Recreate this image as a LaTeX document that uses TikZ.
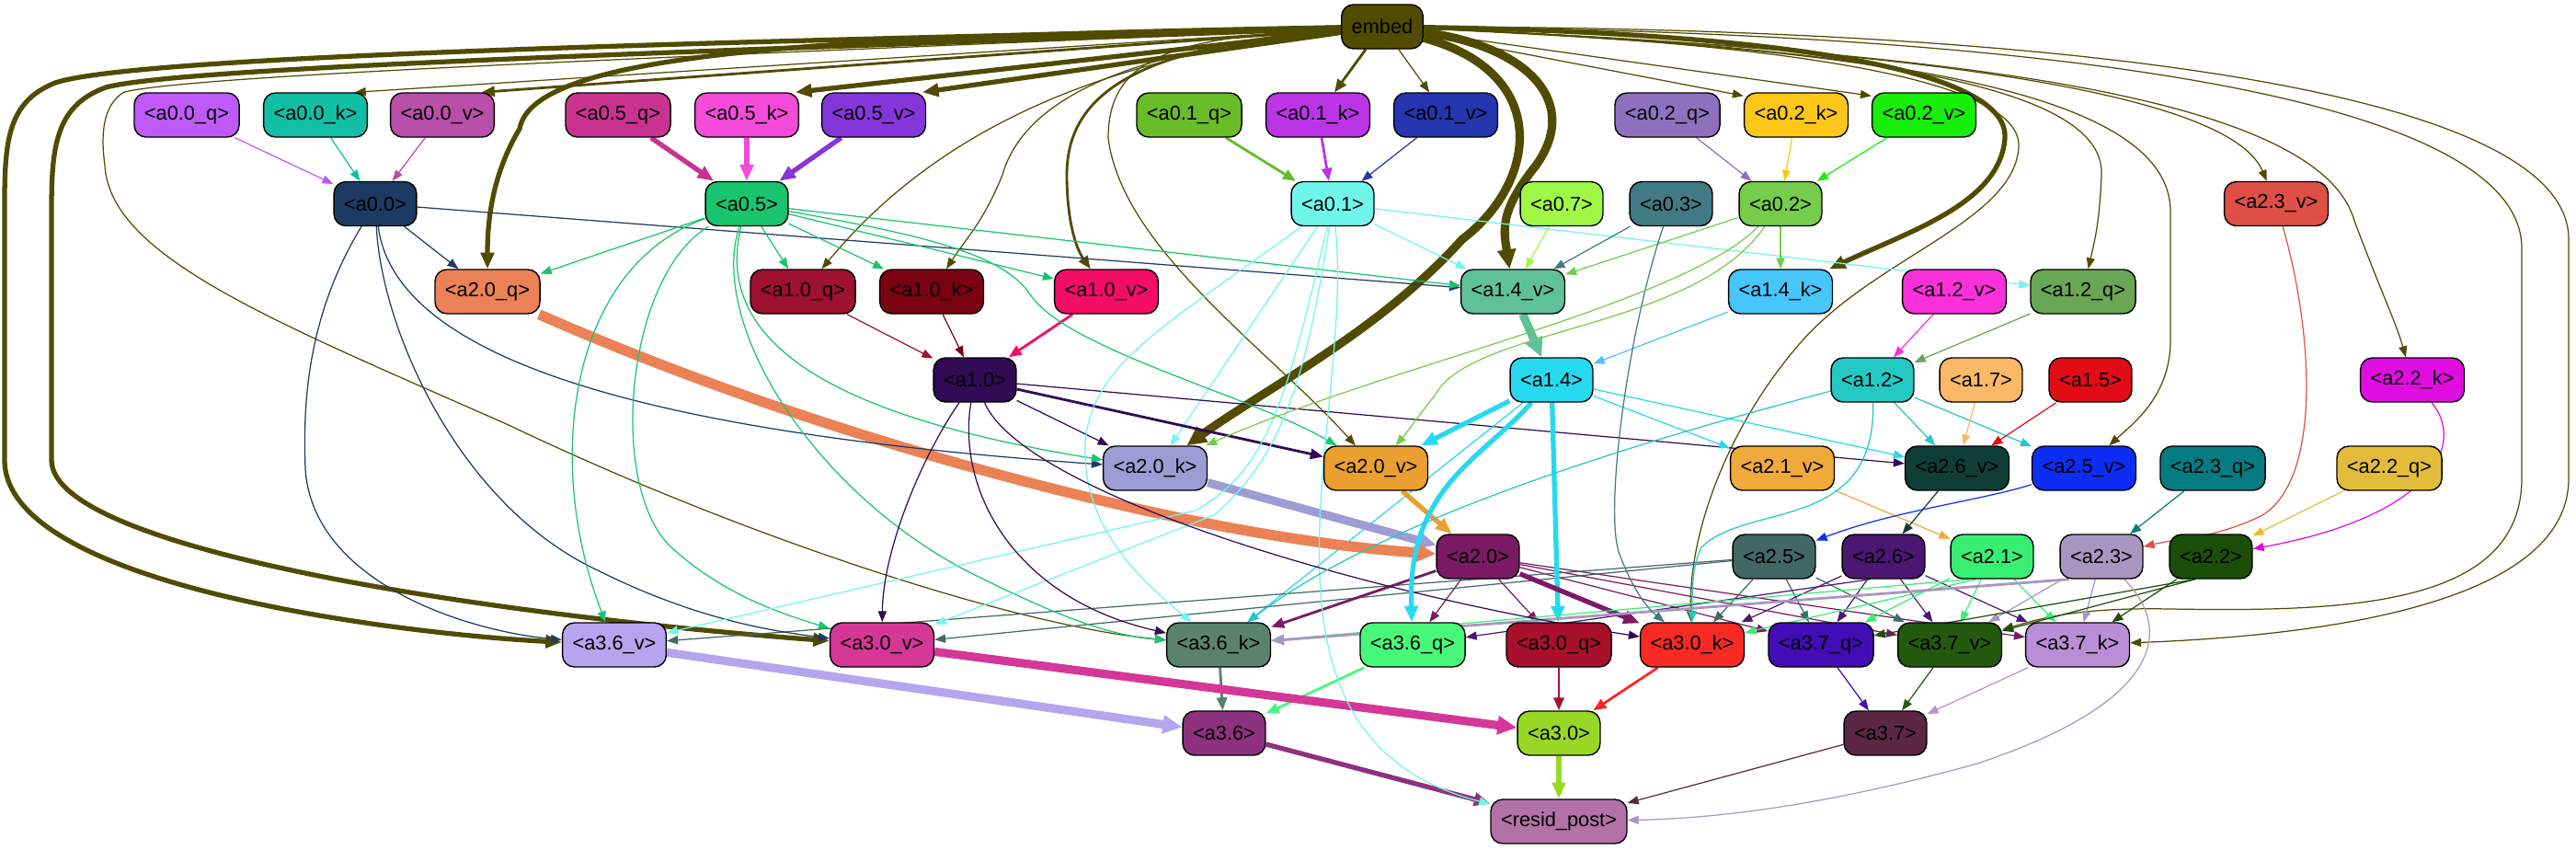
\documentclass[tikz,border=0pt]{standalone}
\usepackage{fontspec}
\setmainfont{Liberation Sans}
\usetikzlibrary{arrows.meta}
\pgfdeclarelayer{bg}
\pgfsetlayers{bg,main}

\definecolor{cembed}{HTML}{514B00}
\definecolor{ca00q}{HTML}{BF5AF8}
\definecolor{ca00k}{HTML}{10BFA6}
\definecolor{ca00v}{HTML}{B84FA8}
\definecolor{ca05q}{HTML}{C9338F}
\definecolor{ca05k}{HTML}{F44BDA}
\definecolor{ca05v}{HTML}{8536DA}
\definecolor{ca01q}{HTML}{68BC27}
\definecolor{ca01k}{HTML}{BB34E6}
\definecolor{ca01v}{HTML}{2535AD}
\definecolor{ca02q}{HTML}{8F70BE}
\definecolor{ca02k}{HTML}{FCC718}
\definecolor{ca02v}{HTML}{17EE0A}
\definecolor{ca00}{HTML}{1C3A62}
\definecolor{ca05}{HTML}{18C46D}
\definecolor{ca01}{HTML}{6FF6EB}
\definecolor{ca07}{HTML}{9FF845}
\definecolor{ca03}{HTML}{417A83}
\definecolor{ca02}{HTML}{76CC4B}
\definecolor{ca23v}{HTML}{DE5046}
\definecolor{ca20q}{HTML}{EB8255}
\definecolor{ca10q}{HTML}{9E112F}
\definecolor{ca10k}{HTML}{7B0311}
\definecolor{ca10v}{HTML}{F40D66}
\definecolor{ca14v}{HTML}{5FC09A}
\definecolor{ca14k}{HTML}{46C6FA}
\definecolor{ca12v}{HTML}{FA30DB}
\definecolor{ca12q}{HTML}{69A655}
\definecolor{ca10}{HTML}{320A55}
\definecolor{ca14}{HTML}{27D9EF}
\definecolor{ca12}{HTML}{24C8C2}
\definecolor{ca17}{HTML}{F9B967}
\definecolor{ca15}{HTML}{E20C17}
\definecolor{ca22k}{HTML}{E00DE2}
\definecolor{ca20k}{HTML}{9D9CD5}
\definecolor{ca20v}{HTML}{EA9F30}
\definecolor{ca21v}{HTML}{F0A93B}
\definecolor{ca26v}{HTML}{0E3E36}
\definecolor{ca25v}{HTML}{0C2EF4}
\definecolor{ca23q}{HTML}{047C82}
\definecolor{ca22q}{HTML}{E3BD3A}
\definecolor{ca20}{HTML}{7A1A64}
\definecolor{ca25}{HTML}{416865}
\definecolor{ca26}{HTML}{4C1673}
\definecolor{ca21}{HTML}{37EF73}
\definecolor{ca23}{HTML}{A996C0}
\definecolor{ca22}{HTML}{1B4F09}
\definecolor{ca36v}{HTML}{B4A5EE}
\definecolor{ca30v}{HTML}{D53797}
\definecolor{ca36k}{HTML}{5B826F}
\definecolor{ca36q}{HTML}{48F87A}
\definecolor{ca30q}{HTML}{A8102C}
\definecolor{ca30k}{HTML}{F82A24}
\definecolor{ca37q}{HTML}{430DB5}
\definecolor{ca37v}{HTML}{245A0E}
\definecolor{ca37k}{HTML}{BA8ED6}
\definecolor{ca36}{HTML}{8E317F}
\definecolor{ca30}{HTML}{98D825}
\definecolor{ca37}{HTML}{5B2744}
\definecolor{cresid}{HTML}{B272A6}

\tikzset{
  box/.style={draw=black, line width=0.4pt, rounded corners=0.13cm, minimum height=0.48cm,
    inner xsep=0.11cm, inner ysep=0pt, font=\fontsize{6.2}{7}\selectfont},
  wire/.style={line width=0.35pt, -{Triangle[length=3.4pt,width=2.6pt]}},
  wirem/.style={line width=0.8pt, -{Triangle[length=4pt,width=3.2pt]}},
  wireb/.style={line width=1.5pt, -{Triangle[length=5pt,width=4pt]}},
  wirex/.style={line width=2.6pt, -{Triangle[length=6pt,width=5.5pt]}},
}

\begin{document}
\begin{tikzpicture}
  \useasboundingbox (0,0) rectangle (28.01,-9.23);
  % nodes, one row at a time
  \node[box, fill=cembed] (embed) at (15.03,-0.29) {embed};
  \foreach \n/\x/\t in {a00q/2.03/{<a0.0\_q>}, a00k/3.43/{<a0.0\_k>}, a00v/4.81/{<a0.0\_v>},
      a05q/6.72/{<a0.5\_q>}, a05k/8.12/{<a0.5\_k>}, a05v/9.50/{<a0.5\_v>},
      a01q/12.93/{<a0.1\_q>}, a01k/14.33/{<a0.1\_k>}, a01v/15.72/{<a0.1\_v>},
      a02q/18.13/{<a0.2\_q>}, a02k/19.53/{<a0.2\_k>}, a02v/20.92/{<a0.2\_v>}}
    \node[box, fill=c\n] (\n) at (\x,-1.25) {\t};
  \foreach \n/\x/\t in {a00/4.08/{<a0.0>}, a05/8.12/{<a0.5>}, a01/14.49/{<a0.1>},
      a07/16.98/{<a0.7>}, a03/18.17/{<a0.3>}, a02/19.36/{<a0.2>}, a23v/24.75/{<a2.3\_v>}}
    \node[box, fill=c\n] (\n) at (\x,-2.215) {\t};
  \foreach \n/\x/\t in {a20q/5.30/{<a2.0\_q>}, a10q/8.73/{<a1.0\_q>}, a10k/10.13/{<a1.0\_k>},
      a10v/12.03/{<a1.0\_v>}, a14v/16.45/{<a1.4\_v>}, a14k/19.36/{<a1.4\_k>},
      a12v/21.25/{<a1.2\_v>}, a12q/22.65/{<a1.2\_q>}}
    \node[box, fill=c\n] (\n) at (\x,-3.17) {\t};
  \foreach \n/\x/\t in {a10/10.60/{<a1.0>}, a14/16.87/{<a1.4>}, a12/20.36/{<a1.2>},
      a17/21.54/{<a1.7>}, a15/22.73/{<a1.5>}, a22k/26.23/{<a2.2\_k>}}
    \node[box, fill=c\n] (\n) at (\x,-4.13) {\t};
  \foreach \n/\x/\t in {a20k/12.56/{<a2.0\_k>}, a20v/14.96/{<a2.0\_v>}, a21v/19.38/{<a2.1\_v>},
      a26v/21.28/{<a2.6\_v>}, a25v/22.66/{<a2.5\_v>}, a23q/24.06/{<a2.3\_q>}, a22q/25.98/{<a2.2\_q>}}
    \node[box, fill=c\n] (\n) at (\x,-5.09) {\t};
  \foreach \n/\x/\t in {a20/16.07/{<a2.0>}, a25/19.29/{<a2.5>}, a26/20.48/{<a2.6>},
      a21/21.66/{<a2.1>}, a23/22.85/{<a2.3>}, a22/24.04/{<a2.2>}}
    \node[box, fill=c\n] (\n) at (\x,-6.05) {\t};
  \foreach \n/\x/\t in {a36v/6.68/{<a3.6\_v>}, a30v/9.59/{<a3.0\_v>}, a36k/13.25/{<a3.6\_k>},
      a36q/15.36/{<a3.6\_q>}, a30q/16.95/{<a3.0\_q>}, a30k/18.40/{<a3.0\_k>},
      a37q/19.80/{<a3.7\_q>}, a37v/21.20/{<a3.7\_v>}, a37k/22.59/{<a3.7\_k>}}
    \node[box, fill=c\n] (\n) at (\x,-7.01) {\t};
  \foreach \n/\x/\t in {a36/13.31/{<a3.6>}, a30/16.95/{<a3.0>}, a37/20.50/{<a3.7>}}
    \node[box, fill=c\n] (\n) at (\x,-7.97) {\t};
  \node[box, fill=cresid] (resid) at (16.95,-8.93) {<resid\_post>};

  \begin{pgfonlayer}{bg}
  % embed into the first row
  \foreach \t in {a00k.30, a01v, a02k.160, a02v.160}
    \draw[wire, draw=cembed] (embed) -- (\t);
  \foreach \t in {a00v.30, a01k}
    \draw[wirem, draw=cembed] (embed) -- (\t);
  \foreach \t in {a05k.25, a05v.25}
    \draw[wireb, draw=cembed] (embed) -- (\t);
  % embed, long ways round
  \draw[wireb, draw=cembed] (embed) .. controls (8,-0.45) and (1.5,-0.6) .. (0.6,-0.9)
    .. controls (0.1,-1.1) and (0.05,-1.5) .. (0.05,-2.2) -- (0.05,-5.0)
    .. controls (0.05,-6.4) and (4.5,-6.9) .. (a36v);
  \draw[wireb, draw=cembed] (embed) .. controls (8,-0.55) and (2.0,-0.72) .. (1.15,-0.95)
    .. controls (0.6,-1.15) and (0.56,-1.6) .. (0.56,-2.3) -- (0.56,-5.0)
    .. controls (0.56,-6.0) and (5.5,-6.7) .. (a30v);
  \draw[wire, draw=cembed] (embed) .. controls (8,-0.6) and (2.2,-0.8) .. (1.35,-1.0)
    .. controls (1.1,-1.15) and (1.1,-1.5) .. (1.14,-1.8)
    .. controls (1.2,-2.8) and (3,-3.5) .. (5.53,-4.62)
    .. controls (8,-5.8) and (11,-6.8) .. (a36k);
  \draw[wireb, draw=cembed] (embed) .. controls (9,-0.4) and (5.8,-0.55) .. (5.65,-1.4)
    .. controls (5.35,-1.9) and (5.3,-2.4) .. (a20q);
  \draw[wirex, draw=cembed] (embed) .. controls (16.9,-0.8) and (16.7,-2.0) .. (15.9,-2.6)
    .. controls (15.0,-3.6) and (13.8,-4.2) .. (a20k);
  \draw[wirex, draw=cembed] (embed) .. controls (16.6,-0.5) and (17.2,-1.1) .. (16.7,-1.8)
    .. controls (16.3,-2.3) and (16.35,-2.5) .. (a14v);
  \draw[wireb, draw=cembed] (embed) .. controls (19,-0.35) and (21.85,-0.7) .. (21.8,-1.5)
    .. controls (21.75,-2.2) and (20.8,-2.5) .. (a14k);
  \draw[wire, draw=cembed] (embed) .. controls (19,-0.45) and (22.0,-0.8) .. (21.95,-1.6)
    .. controls (21.9,-2.4) and (20.4,-2.8) .. (19.6,-3.7)
    .. controls (18.8,-4.6) and (18.35,-5.8) .. (a30k);
  \draw[wire, draw=cembed] (embed) .. controls (19.5,-0.5) and (22.9,-0.8) .. (22.85,-1.9)
    .. controls (22.83,-2.4) and (22.78,-2.6) .. (a12q);
  \draw[wire, draw=cembed] (embed) .. controls (20,-0.5) and (23.6,-0.9) .. (23.6,-2.3)
    -- (23.6,-3.7) .. controls (23.6,-4.3) and (23.2,-4.6) .. (a25v);
  \draw[wire, draw=cembed] (embed) .. controls (20,-0.5) and (24.2,-0.9) .. (a23v);
  \draw[wire, draw=cembed] (embed) .. controls (21,-0.55) and (25.2,-1.0) .. (25.6,-2.4)
    .. controls (25.9,-3.2) and (26.05,-3.5) .. (a22k);
  \draw[wire, draw=cembed] (embed) .. controls (22,-0.3) and (27.93,-0.9) .. (27.93,-2.6)
    -- (27.93,-5.2) .. controls (27.93,-6.5) and (25.5,-6.9) .. (a37k);
  \draw[wire, draw=cembed] (embed) .. controls (22,-0.35) and (27.42,-1.0) .. (27.42,-2.7)
    -- (27.42,-5.2) .. controls (27.42,-6.6) and (25.5,-6.65) .. (23.6,-6.62)
    .. controls (22.6,-6.6) and (22.2,-6.72) .. (a37v);
  \draw[wire, draw=cembed] (embed) .. controls (12.8,-0.4) and (12.05,-0.6) .. (12.05,-1.5)
    .. controls (12.2,-2.7) and (13.8,-3.8) .. (a20v);
  \draw[wirem, draw=cembed] (embed) .. controls (12.4,-0.5) and (11.6,-1.0) .. (11.6,-1.9)
    .. controls (11.6,-2.4) and (11.7,-2.7) .. (a10v);
  \draw[wire, draw=cembed] (embed) .. controls (12,-0.55) and (11.1,-1.2) .. (10.9,-1.9)
    .. controls (10.7,-2.4) and (10.5,-2.6) .. (a10k);
  \draw[wire, draw=cembed] (embed) .. controls (12,-0.6) and (10.2,-1.4) .. (a10q);

  % straight edges
  \foreach \s/\t in {a00q/a00, a00k/a00, a00v/a00, a01v/a01, a02q/a02, a02k/a02, a02v/a02,
      a00/a20q, a00/a14v, a05/a20q, a05/a10q, a05/a10k, a05/a10v, a05/a14v,
      a01/a14v, a01/a12q, a01/a20k, a07/a14v, a03/a14v, a02/a14v, a02/a14k,
      a10q/a10, a10k/a10, a10/a20k, a10/a26v, a14k/a14, a12v/a12, a12q/a12,
      a14/a21v, a14/a26v, a14/a36k, a12/a26v, a12/a25v, a17/a26v, a15/a26v,
      a21v/a21, a26v/a26, a23q/a23, a22q/a22,
      a20/a36q, a20/a30q, a20/a37q, a20/a37v, a20/a37k,
      a25/a36v, a25/a30v, a25/a30k, a25/a37q, a25/a37v,
      a26/a30k, a26/a37q, a26/a37v, a26/a37k,
      a21/a37q, a21/a37v, a21/a37k, a23/a37v, a23/a37k, a22/a37k,
      a37q/a37, a37v/a37, a37k/a37, a37/resid}
    \draw[wire, draw=c\s] (\s) -- (\t);
  \foreach \s/\t in {a01q/a01, a01k/a01, a10v/a10, a10/a20v, a20/a36k,
      a36k/a36, a36q/a36, a30q/a30, a30k/a30}
    \draw[wirem, draw=c\s] (\s) -- (\t);
  \foreach \s/\t in {a05q/a05, a05k/a05, a05v/a05, a14/a20v, a14/a30q, a20v/a20,
      a20/a30k, a36/resid, a30/resid}
    \draw[wireb, draw=c\s] (\s) -- (\t);
  \foreach \s/\t in {a14v/a14, a20k/a20, a36v/a36, a30v/a30}
    \draw[wirex, draw=c\s] (\s) -- (\t);
  \draw[wirex, line width=3.2pt, draw=ca20q] (a20q) .. controls (9,-4.8) and (13,-5.85) .. (a20);
  \draw[wire, draw=ca26] (a26.240) -- (a36q);
  \draw[wire, draw=ca21] (a21.225) -- (a36k);
  \draw[wire, draw=ca21] (a21.235) -- (a30k);
  \draw[wirem, draw=ca23] (a23.215) -- (a36k);
  \draw[wire, draw=ca22] (a22.235) -- (a37q);
  \draw[wire, draw=ca22] (a22.235) -- (a37v);

  % curved edges
  \draw[wire, draw=ca00] (a00) .. controls (3.3,-3.5) and (3.3,-4.5) .. (3.32,-5.1)
    .. controls (3.4,-6.3) and (5,-6.85) .. (a36v);
  \draw[wire, draw=ca00] (a00) .. controls (4.15,-3.6) and (5.0,-5.5) .. (6.5,-6.2)
    .. controls (7.5,-6.7) and (8.3,-6.85) .. (a30v);
  \draw[wire, draw=ca00] (a00) .. controls (4.3,-3.9) and (7.0,-4.7) .. (a20k);
  \draw[wire, draw=ca05] (a05) .. controls (6.2,-2.9) and (5.9,-5.0) .. (a36v);
  \draw[wire, draw=ca05] (a05) .. controls (6.8,-3.0) and (6.6,-5.3) .. (7.3,-5.95)
    .. controls (7.9,-6.5) and (8.6,-6.7) .. (a30v);
  \draw[wire, draw=ca05] (a05) .. controls (7.7,-3.5) and (8.8,-5.3) .. (10.5,-6.2)
    .. controls (11.4,-6.65) and (12.0,-6.9) .. (a36k);
  \draw[wire, draw=ca05] (a05) .. controls (7.7,-3.9) and (9.5,-4.6) .. (a20k);
  \draw[wire, draw=ca05] (a05) .. controls (10.0,-2.55) and (10.9,-2.75) .. (11.2,-3.2)
    .. controls (11.6,-3.8) and (13.6,-4.3) .. (a20v);
  \draw[wire, draw=ca01] (a01) .. controls (14.0,-4.3) and (13.8,-5.1) .. (13.0,-5.55) -- (a36v);
  \draw[wire, draw=ca01] (a01) .. controls (14.2,-4.2) and (13.9,-5.0) .. (13.2,-5.6) -- (a30v);
  \draw[wire, draw=ca01] (a01) .. controls (12.6,-3.6) and (11.75,-4.0) .. (11.8,-5.0)
    .. controls (11.85,-5.8) and (12.4,-6.3) .. (a36k);
  \draw[wire, draw=ca01] (a01) .. controls (14.75,-4.5) and (13.3,-8.0) .. (resid);
  \draw[wire, draw=ca03] (a03) .. controls (17.7,-3.6) and (17.45,-5.5) .. (17.6,-6.0)
    .. controls (17.75,-6.4) and (17.9,-6.6) .. (a30k);
  \draw[wire, draw=ca02] (a02) .. controls (18.3,-3.3) and (15.0,-4.0) .. (a20k);
  \draw[wire, draw=ca02] (a02) .. controls (18.4,-3.6) and (16.0,-3.55) .. (15.6,-4.3)
    .. controls (15.4,-4.55) and (15.3,-4.7) .. (a20v);
  \draw[wire, draw=ca10] (a10) .. controls (10.0,-5.0) and (9.6,-6.0) .. (a30v);
  \draw[wire, draw=ca10] (a10) .. controls (10.4,-5.3) and (11.0,-6.5) .. (a36k);
  \draw[wire, draw=ca10] (a10) .. controls (11.1,-5.3) and (14.5,-6.4) .. (a30k);
  \draw[wireb, draw=ca14] (a14) .. controls (16.1,-5.0) and (15.3,-5.3) .. (a36q);
  \draw[wire, draw=ca12] (a12) .. controls (20.4,-5.8) and (19.0,-5.45) .. (18.5,-5.95)
    .. controls (18.4,-6.15) and (18.4,-6.4) .. (a30k);
  \draw[wire, draw=ca12] (a12) .. controls (18.6,-4.6) and (15.2,-5.5) .. (a36k);
  \draw[wire, draw=ca23v] (a23v) .. controls (25.15,-3.6) and (25.25,-5.2) .. (24.6,-5.6)
    .. controls (24.1,-5.85) and (23.7,-5.85) .. (a23);
  \draw[wire, draw=ca22k] (a22k) .. controls (26.8,-4.8) and (26.5,-5.6) .. (a22);
  \draw[wire, draw=ca25v] (a25v) .. controls (21.5,-5.45) and (20.6,-5.55) .. (a25);
  \draw[wire, draw=ca23] (a23) .. controls (23.6,-6.8) and (23.6,-7.6) .. (21.5,-8.3)
    .. controls (19.7,-8.8) and (18.5,-8.9) .. (resid);
  \end{pgfonlayer}
\end{tikzpicture}
\end{document}
